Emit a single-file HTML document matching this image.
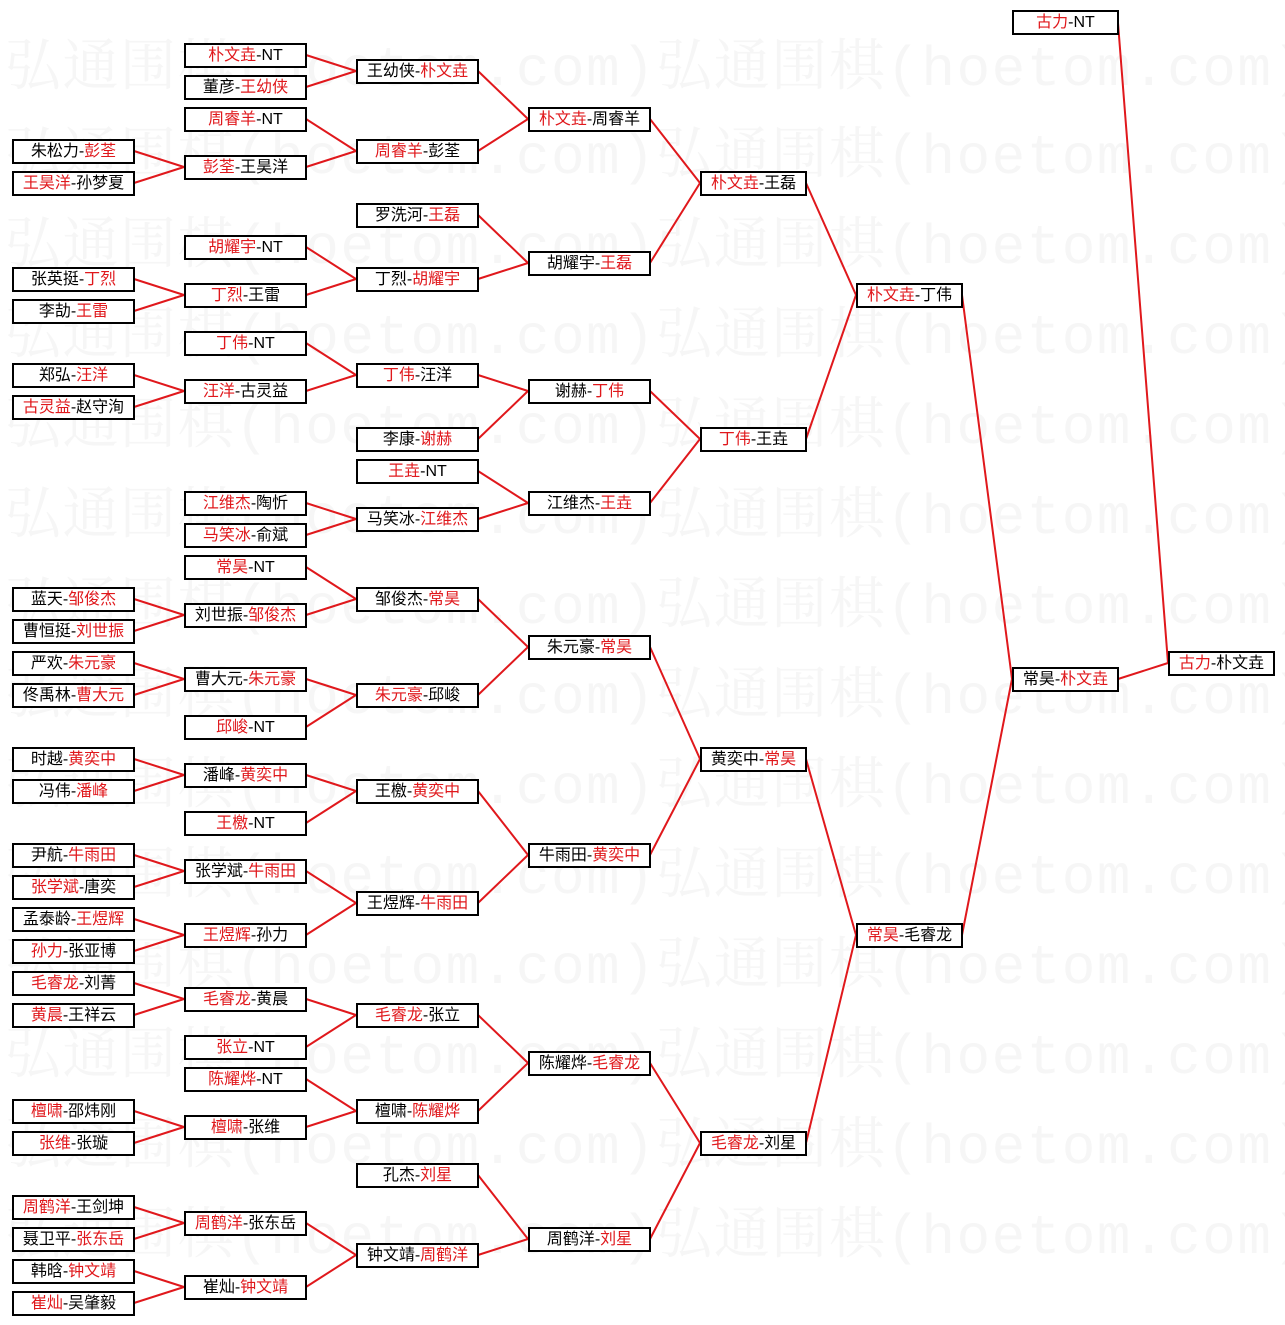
<!DOCTYPE html>
<html><head><meta charset="utf-8"><style>
body{margin:0;width:1285px;height:1325px;background:#fff;position:relative;overflow:hidden;font-family:"Liberation Sans","Noto Sans CJK SC",sans-serif}
.wm{position:absolute;left:5px;font:56px "Liberation Mono","Noto Serif CJK SC",monospace;color:#f6f6f6;white-space:nowrap;line-height:60px;letter-spacing:1.5px}
.b{position:absolute;height:25px;border:2px solid #000;box-sizing:border-box;background:#fff;font-size:16px;text-align:center;line-height:21px;white-space:nowrap;color:#000}
.a{width:123px}.n{width:107px}
i{font-style:normal;color:#e0181c}
svg{position:absolute;left:0;top:0}
</style></head><body>
<div class="wm" style="top:40px">弘通围棋(hoetom.com)弘通围棋(hoetom.com)</div>
<div class="wm" style="top:128px">弘通围棋(hoetom.com)弘通围棋(hoetom.com)</div>
<div class="wm" style="top:218px">弘通围棋(hoetom.com)弘通围棋(hoetom.com)</div>
<div class="wm" style="top:308px">弘通围棋(hoetom.com)弘通围棋(hoetom.com)</div>
<div class="wm" style="top:398px">弘通围棋(hoetom.com)弘通围棋(hoetom.com)</div>
<div class="wm" style="top:488px">弘通围棋(hoetom.com)弘通围棋(hoetom.com)</div>
<div class="wm" style="top:578px">弘通围棋(hoetom.com)弘通围棋(hoetom.com)</div>
<div class="wm" style="top:668px">弘通围棋(hoetom.com)弘通围棋(hoetom.com)</div>
<div class="wm" style="top:758px">弘通围棋(hoetom.com)弘通围棋(hoetom.com)</div>
<div class="wm" style="top:848px">弘通围棋(hoetom.com)弘通围棋(hoetom.com)</div>
<div class="wm" style="top:938px">弘通围棋(hoetom.com)弘通围棋(hoetom.com)</div>
<div class="wm" style="top:1028px">弘通围棋(hoetom.com)弘通围棋(hoetom.com)</div>
<div class="wm" style="top:1118px">弘通围棋(hoetom.com)弘通围棋(hoetom.com)</div>
<div class="wm" style="top:1208px">弘通围棋(hoetom.com)弘通围棋(hoetom.com)</div>

<svg width="1285" height="1325" stroke="#e0181c" stroke-width="2" fill="none">
<path d="M134 151L184 167M134 183L184 167M134 279L184 295M134 311L184 295M134 375L184 391M134 407L184 391M134 599L184 615M134 631L184 615M134 663L184 679M134 695L184 679M134 759L184 775M134 791L184 775M134 855L184 871M134 887L184 871M134 919L184 935M134 951L184 935M134 983L184 999M134 1015L184 999M134 1111L184 1127M134 1143L184 1127M134 1207L184 1223M134 1239L184 1223M134 1271L184 1287M134 1303L184 1287"/>
<path d="M306 55L356 71M306 87L356 71M306 119L356 151M306 167L356 151M306 247L356 279M306 295L356 279M306 343L356 375M306 391L356 375M306 503L356 519M306 535L356 519M306 567L356 599M306 615L356 599M306 679L356 695M306 727L356 695M306 775L356 791M306 823L356 791M306 871L356 903M306 935L356 903M306 999L356 1015M306 1047L356 1015M306 1079L356 1111M306 1127L356 1111M306 1223L356 1255M306 1287L356 1255"/>
<path d="M478 71L528 119M478 151L528 119M478 215L528 263M478 279L528 263M478 375L528 391M478 439L528 391M478 471L528 503M478 519L528 503M478 599L528 647M478 695L528 647M478 791L528 855M478 903L528 855M478 1015L528 1063M478 1111L528 1063M478 1175L528 1239M478 1255L528 1239"/>
<path d="M650 119L700 183M650 263L700 183M650 391L700 439M650 503L700 439M650 647L700 759M650 855L700 759M650 1063L700 1143M650 1239L700 1143"/>
<path d="M806 183L856 295M806 439L856 295M806 759L856 935M806 1143L856 935"/>
<path d="M962 295L1012 679M962 935L1012 679"/>
<path d="M1118 679L1168 663M1118 23L1168 663"/>
</svg>

<div class="b a" style="left:12px;top:139px">朱松力-<i>彭荃</i></div>
<div class="b a" style="left:12px;top:171px"><i>王昊洋</i>-孙梦夏</div>
<div class="b a" style="left:12px;top:267px">张英挺-<i>丁烈</i></div>
<div class="b a" style="left:12px;top:299px">李劼-<i>王雷</i></div>
<div class="b a" style="left:12px;top:363px">郑弘-<i>汪洋</i></div>
<div class="b a" style="left:12px;top:395px"><i>古灵益</i>-赵守洵</div>
<div class="b a" style="left:12px;top:587px">蓝天-<i>邹俊杰</i></div>
<div class="b a" style="left:12px;top:619px">曹恒挺-<i>刘世振</i></div>
<div class="b a" style="left:12px;top:651px">严欢-<i>朱元豪</i></div>
<div class="b a" style="left:12px;top:683px">佟禹林-<i>曹大元</i></div>
<div class="b a" style="left:12px;top:747px">时越-<i>黄奕中</i></div>
<div class="b a" style="left:12px;top:779px">冯伟-<i>潘峰</i></div>
<div class="b a" style="left:12px;top:843px">尹航-<i>牛雨田</i></div>
<div class="b a" style="left:12px;top:875px"><i>张学斌</i>-唐奕</div>
<div class="b a" style="left:12px;top:907px">孟泰龄-<i>王煜辉</i></div>
<div class="b a" style="left:12px;top:939px"><i>孙力</i>-张亚博</div>
<div class="b a" style="left:12px;top:971px"><i>毛睿龙</i>-刘菁</div>
<div class="b a" style="left:12px;top:1003px"><i>黄晨</i>-王祥云</div>
<div class="b a" style="left:12px;top:1099px"><i>檀啸</i>-邵炜刚</div>
<div class="b a" style="left:12px;top:1131px"><i>张维</i>-张璇</div>
<div class="b a" style="left:12px;top:1195px"><i>周鹤洋</i>-王剑坤</div>
<div class="b a" style="left:12px;top:1227px">聂卫平-<i>张东岳</i></div>
<div class="b a" style="left:12px;top:1259px">韩晗-<i>钟文靖</i></div>
<div class="b a" style="left:12px;top:1291px"><i>崔灿</i>-吴肇毅</div>
<div class="b a" style="left:184px;top:43px"><i>朴文垚</i>-NT</div>
<div class="b a" style="left:184px;top:75px">董彦-<i>王幼侠</i></div>
<div class="b a" style="left:184px;top:107px"><i>周睿羊</i>-NT</div>
<div class="b a" style="left:184px;top:155px"><i>彭荃</i>-王昊洋</div>
<div class="b a" style="left:184px;top:235px"><i>胡耀宇</i>-NT</div>
<div class="b a" style="left:184px;top:283px"><i>丁烈</i>-王雷</div>
<div class="b a" style="left:184px;top:331px"><i>丁伟</i>-NT</div>
<div class="b a" style="left:184px;top:379px"><i>汪洋</i>-古灵益</div>
<div class="b a" style="left:184px;top:491px"><i>江维杰</i>-陶忻</div>
<div class="b a" style="left:184px;top:523px"><i>马笑冰</i>-俞斌</div>
<div class="b a" style="left:184px;top:555px"><i>常昊</i>-NT</div>
<div class="b a" style="left:184px;top:603px">刘世振-<i>邹俊杰</i></div>
<div class="b a" style="left:184px;top:667px">曹大元-<i>朱元豪</i></div>
<div class="b a" style="left:184px;top:715px"><i>邱峻</i>-NT</div>
<div class="b a" style="left:184px;top:763px">潘峰-<i>黄奕中</i></div>
<div class="b a" style="left:184px;top:811px"><i>王檄</i>-NT</div>
<div class="b a" style="left:184px;top:859px">张学斌-<i>牛雨田</i></div>
<div class="b a" style="left:184px;top:923px"><i>王煜辉</i>-孙力</div>
<div class="b a" style="left:184px;top:987px"><i>毛睿龙</i>-黄晨</div>
<div class="b a" style="left:184px;top:1035px"><i>张立</i>-NT</div>
<div class="b a" style="left:184px;top:1067px"><i>陈耀烨</i>-NT</div>
<div class="b a" style="left:184px;top:1115px"><i>檀啸</i>-张维</div>
<div class="b a" style="left:184px;top:1211px"><i>周鹤洋</i>-张东岳</div>
<div class="b a" style="left:184px;top:1275px">崔灿-<i>钟文靖</i></div>
<div class="b a" style="left:356px;top:59px">王幼侠-<i>朴文垚</i></div>
<div class="b a" style="left:356px;top:139px"><i>周睿羊</i>-彭荃</div>
<div class="b a" style="left:356px;top:203px">罗洗河-<i>王磊</i></div>
<div class="b a" style="left:356px;top:267px">丁烈-<i>胡耀宇</i></div>
<div class="b a" style="left:356px;top:363px"><i>丁伟</i>-汪洋</div>
<div class="b a" style="left:356px;top:427px">李康-<i>谢赫</i></div>
<div class="b a" style="left:356px;top:459px"><i>王垚</i>-NT</div>
<div class="b a" style="left:356px;top:507px">马笑冰-<i>江维杰</i></div>
<div class="b a" style="left:356px;top:587px">邹俊杰-<i>常昊</i></div>
<div class="b a" style="left:356px;top:683px"><i>朱元豪</i>-邱峻</div>
<div class="b a" style="left:356px;top:779px">王檄-<i>黄奕中</i></div>
<div class="b a" style="left:356px;top:891px">王煜辉-<i>牛雨田</i></div>
<div class="b a" style="left:356px;top:1003px"><i>毛睿龙</i>-张立</div>
<div class="b a" style="left:356px;top:1099px">檀啸-<i>陈耀烨</i></div>
<div class="b a" style="left:356px;top:1163px">孔杰-<i>刘星</i></div>
<div class="b a" style="left:356px;top:1243px">钟文靖-<i>周鹤洋</i></div>
<div class="b a" style="left:528px;top:107px"><i>朴文垚</i>-周睿羊</div>
<div class="b a" style="left:528px;top:251px">胡耀宇-<i>王磊</i></div>
<div class="b a" style="left:528px;top:379px">谢赫-<i>丁伟</i></div>
<div class="b a" style="left:528px;top:491px">江维杰-<i>王垚</i></div>
<div class="b a" style="left:528px;top:635px">朱元豪-<i>常昊</i></div>
<div class="b a" style="left:528px;top:843px">牛雨田-<i>黄奕中</i></div>
<div class="b a" style="left:528px;top:1051px">陈耀烨-<i>毛睿龙</i></div>
<div class="b a" style="left:528px;top:1227px">周鹤洋-<i>刘星</i></div>
<div class="b n" style="left:700px;top:171px"><i>朴文垚</i>-王磊</div>
<div class="b n" style="left:700px;top:427px"><i>丁伟</i>-王垚</div>
<div class="b n" style="left:700px;top:747px">黄奕中-<i>常昊</i></div>
<div class="b n" style="left:700px;top:1131px"><i>毛睿龙</i>-刘星</div>
<div class="b n" style="left:856px;top:283px"><i>朴文垚</i>-丁伟</div>
<div class="b n" style="left:856px;top:923px"><i>常昊</i>-毛睿龙</div>
<div class="b n" style="left:1012px;top:10px"><i>古力</i>-NT</div>
<div class="b n" style="left:1012px;top:667px">常昊-<i>朴文垚</i></div>
<div class="b n" style="left:1168px;top:651px"><i>古力</i>-朴文垚</div>
</body></html>
